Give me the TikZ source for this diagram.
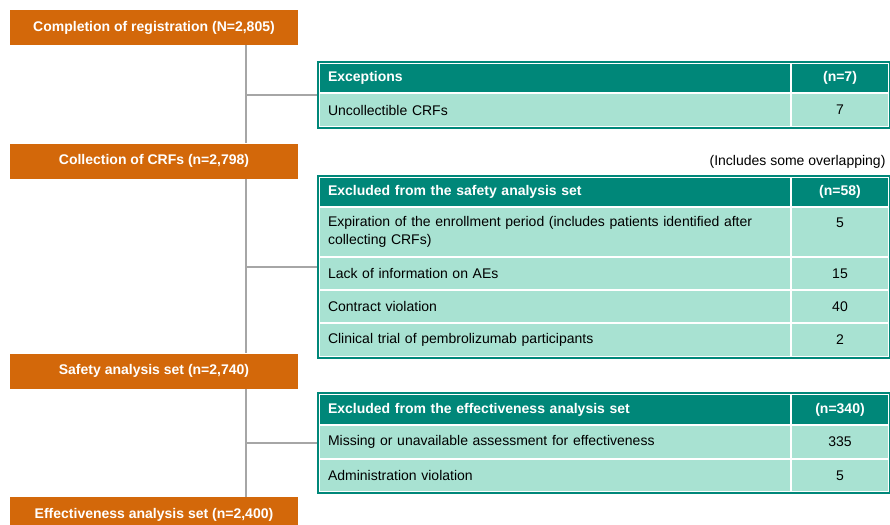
\documentclass[tikz,border=0pt]{standalone}
\usepackage{fontspec}
\setmainfont{Liberation Sans}
\usepackage{tikz}
\usetikzlibrary{positioning,fit}

\definecolor{regorange}{RGB}{211,104,10}
\definecolor{hdteal}{RGB}{0,135,121}
\definecolor{rowmint}{RGB}{168,226,210}
\definecolor{linkgray}{RGB}{166,166,166}
\newcommand{\basefont}{\fontsize{14pt}{18pt}\selectfont}

\begin{document}
\begin{tikzpicture}[
	x=1pt, y=-1pt,
	stage/.style={fill=regorange, text=white, font=\basefont\bfseries, minimum width=288pt, minimum height=35pt, inner sep=0pt},
	headL/.style={anchor=north west, fill=hdteal, draw=white, line width=2pt, text=white, font=\basefont\bfseries, text width=454pt, inner xsep=9pt, inner ysep=0pt, minimum height=#1, align=left},
	headR/.style={anchor=north west, fill=hdteal, draw=white, line width=2pt, text=white, font=\basefont\bfseries, text width=98pt, inner xsep=0pt, inner ysep=0pt, minimum height=#1, align=center},
	cellL/.style={anchor=north west, fill=rowmint, draw=white, line width=2pt, font=\basefont, text width=454pt, inner xsep=9pt, inner ysep=0pt, minimum height=#1, align=left},
	cellR/.style={anchor=north west, fill=rowmint, draw=white, line width=2pt, font=\basefont, text width=98pt, inner xsep=0pt, inner ysep=0pt, minimum height=#1, align=center},
	tabframe/.style={draw=hdteal, line width=2pt, inner sep=0pt},
	link/.style={draw=linkgray, line width=2pt}
	]
	\useasboundingbox (0,0) rectangle (890,524);
	\clip (0,0) rectangle (890,524);

	% stages
	\node[stage] (reg) at (154,27.5) {Completion of registration (N=2,805)};
	\node[stage] (crf) at (154,161) {Collection of CRFs (n=2,798)};
	\node[stage] (saf) at (154,371) {Safety analysis set (n=2,740)};
	\node[stage] (eff) at (154,514.5) {Effectiveness analysis set (n=2,400)};

	% exceptions
	\node[headL=30pt] (excH) at (318,62) {Exceptions};
	\node[headR=30pt] (excHn) at (790,62) {(n=7)};
	\node[cellL=34pt] (exc1) at (318,92) {Uncollectible CRFs};
	\node[cellR=34pt] (exc1n) at (790,92) {7};
	\node[tabframe, fit=(excH)(exc1n)] (excT) {};

	% safety exclusions
	\node[font=\basefont, anchor=east] (note) at (889,162) {(Includes some overlapping)};
	\node[headL=30pt] (safH) at (318,176) {Excluded from the safety analysis set};
	\node[headR=30pt] (safHn) at (790,176) {(n=58)};
	\node[cellL=50pt] (saf1) at (318,206) {Expiration of the enrollment period (includes patients identified after\\collecting CRFs)};
	\node[cellR=50pt] (saf1n) at (790,206) {5\\\mbox{}};
	\node[cellL=33pt] (saf2) at (318,256) {Lack of information on AEs};
	\node[cellR=33pt] (saf2n) at (790,256) {15};
	\node[cellL=33pt] (saf3) at (318,289) {Contract violation};
	\node[cellR=33pt] (saf3n) at (790,289) {40};
	\node[cellL=34pt] (saf4) at (318,322) {Clinical trial of pembrolizumab participants};
	\node[cellR=34pt] (saf4n) at (790,322) {2};
	\node[tabframe, fit=(safH)(saf4n)] (safT) {};

	% effectiveness exclusions
	\node[headL=31pt] (effH) at (318,393) {Excluded from the effectiveness analysis set};
	\node[headR=31pt] (effHn) at (790,393) {(n=340)};
	\node[cellL=34pt] (eff1) at (318,424) {Missing or unavailable assessment for effectiveness};
	\node[cellR=34pt] (eff1n) at (790,424) {335};
	\node[cellL=33pt] (eff2) at (318,458) {Administration violation};
	\node[cellR=33pt] (eff2n) at (790,458) {5};
	\node[tabframe, fit=(effH)(eff2n)] (effT) {};

	% connectors
	\coordinate (trunk) at (246,0);
	\draw[link] (reg.south -| trunk) -- (crf.north -| trunk);
	\draw[link] (crf.south -| trunk) -- (saf.north -| trunk);
	\draw[link] (saf.south -| trunk) -- (eff.north -| trunk);
	\draw[link] (trunk |- excT.west) -- (excT.west);
	\draw[link] (trunk |- safT.west) -- (safT.west);
	\draw[link] (trunk |- effT.west) -- (effT.west);
\end{tikzpicture}
\end{document}
